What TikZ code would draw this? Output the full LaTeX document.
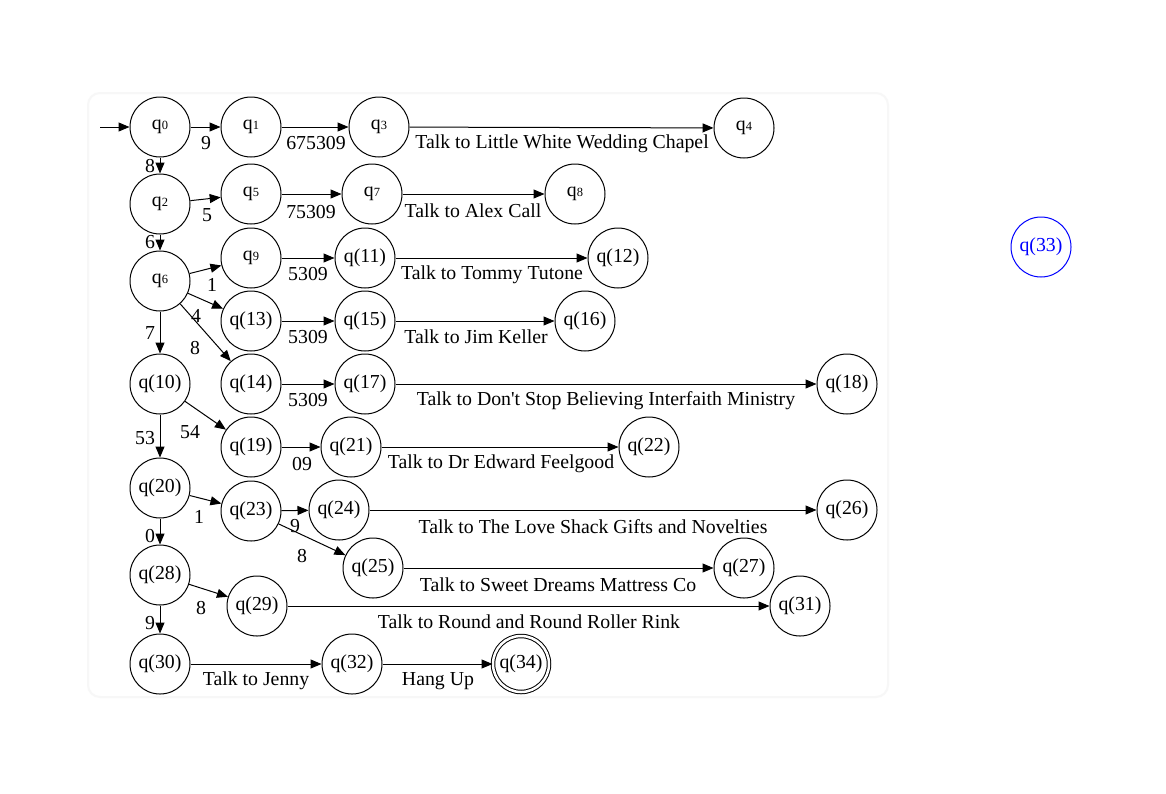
\documentclass[tikz,border=0pt]{standalone}
\usepackage{fontspec}
\setmainfont{Liberation Serif}[Ligatures=TeXOff]
\usetikzlibrary{arrows.meta}
\newcommand\qsub[1]{q{\fontsize{12.5}{12.5}\selectfont #1}}
\begin{document}
\begin{tikzpicture}[x=1pt,y=-1pt,
  st/.style={circle, draw, line width=1pt, minimum size=60pt, inner sep=0pt, font=\fontsize{19.8}{22}\selectfont},
  lb/.style={inner sep=0pt, font=\fontsize{19.8}{22}\selectfont},
  tr/.style={-{Triangle[length=11pt,width=9pt]}, line width=1pt}]
\useasboundingbox[fill=white] (0,0) rectangle (1166,793);
\draw[black!3, line width=2pt, rounded corners=12pt] (88,93) rectangle (888,697);
% states
\node[st] (q0) at (160,127) {\qsub{0}};
\node[st] (q1) at (251,127) {\qsub{1}};
\node[st] (q3) at (379,127) {\qsub{3}};
\node[st] (q4) at (744,128) {\qsub{4}};
\node[st] (q2) at (160,204) {\qsub{2}};
\node[st] (q5) at (251,194) {\qsub{5}};
\node[st] (q7) at (372,194) {\qsub{7}};
\node[st] (q8) at (575,194) {\qsub{8}};
\node[st] (q6) at (160,281) {\qsub{6}};
\node[st] (q9) at (251,258) {\qsub{9}};
\node[st] (q11) at (365,258) {q(11)};
\node[st] (q12) at (618,258) {q(12)};
\node[st] (q13) at (251,321) {q(13)};
\node[st] (q15) at (365,321) {q(15)};
\node[st] (q16) at (585,321) {q(16)};
\node[st] (q10) at (160,384) {q(10)};
\node[st] (q14) at (251,384) {q(14)};
\node[st] (q17) at (365,384) {q(17)};
\node[st] (q18) at (847,384) {q(18)};
\node[st] (q19) at (251,447) {q(19)};
\node[st] (q21) at (351,447) {q(21)};
\node[st] (q22) at (649,447) {q(22)};
\node[st] (q20) at (160,488) {q(20)};
\node[st] (q23) at (251,511) {q(23)};
\node[st] (q24) at (339,510) {q(24)};
\node[st] (q26) at (847,510) {q(26)};
\node[st] (q25) at (373,568) {q(25)};
\node[st] (q27) at (744,568) {q(27)};
\node[st] (q28) at (160,575) {q(28)};
\node[st] (q29) at (257,606) {q(29)};
\node[st] (q31) at (800,606) {q(31)};
\node[st] (q30) at (160,664) {q(30)};
\node[st] (q32) at (352,664) {q(32)};
\node[st, minimum size=56pt, double, double distance=2.5pt] (q34) at (521,664) {q(34)};
\node[st, draw=blue, text=blue] (q33) at (1041,247) {q(33)};
\coordinate (start) at (100,127);
% edges
\draw[tr] (start) -- (q0);
\draw[tr] (q0) -- (q1);
\draw[tr] (q1) -- (q3);
\draw[tr] (q3) -- (q4);
\draw[tr] (q0) -- (q2);
\draw[tr] (q2) -- (q5);
\draw[tr] (q5) -- (q7);
\draw[tr] (q7) -- (q8);
\draw[tr] (q2) -- (q6);
\draw[tr] (q6) -- (q9);
\draw[tr] (q9) -- (q11);
\draw[tr] (q11) -- (q12);
\draw[tr] (q6) -- (q13);
\draw[tr] (q13) -- (q15);
\draw[tr] (q15) -- (q16);
\draw[tr] (q6) -- (q10);
\draw[tr] (q6) -- (q14);
\draw[tr] (q14) -- (q17);
\draw[tr] (q17) -- (q18);
\draw[tr] (q10) -- (q19);
\draw[tr] (q19) -- (q21);
\draw[tr] (q21) -- (q22);
\draw[tr] (q10) -- (q20);
\draw[tr] (q20) -- (q23);
\draw[tr] (q23) -- (q24);
\draw[tr] (q24) -- (q26);
\draw[tr] (q23) -- (q25);
\draw[tr] (q25) -- (q27);
\draw[tr] (q20) -- (q28);
\draw[tr] (q28) -- (q29);
\draw[tr] (q29) -- (q31);
\draw[tr] (q28) -- (q30);
\draw[tr] (q30) -- (q32);
\draw[tr] (q32) -- (q34);
% labels
\node[lb] (l1) at (206,143) {9};
\node[lb] (l2) at (150,166) {8};
\node[lb] (l3) at (316,143) {675309};
\node[lb] (l4) at (562,144) {Talk to Little White Wedding Chapel};
\node[lb] (l5) at (207,215) {5};
\node[lb] (l6) at (311,212) {75309};
\node[lb] (l7) at (473,211) {Talk to Alex Call};
\node[lb] (l8) at (150,242) {6};
\node[lb] (l9) at (212,285) {1};
\node[lb] (l10) at (308,274) {5309};
\node[lb] (l11) at (492,275) {Talk to Tommy Tutone};
\node[lb] (l12) at (196,316) {4};
\node[lb] (l13) at (195,348) {8};
\node[lb] (l14) at (150,333) {7};
\node[lb] (l15) at (308,337) {5309};
\node[lb] (l16) at (476,337) {Talk to Jim Keller};
\node[lb] (l17) at (308,400) {5309};
\node[lb] (l18) at (606,401) {Talk to Don't Stop Believing Interfaith Ministry};
\node[lb] (l19) at (145,438) {53};
\node[lb] (l20) at (190,432) {54};
\node[lb] (l21) at (302,464) {09};
\node[lb] (l22) at (501,464) {Talk to Dr Edward Feelgood};
\node[lb] (l23) at (199,517) {1};
\node[lb] (l24) at (150,536) {0};
\node[lb] (l25) at (295,526) {9};
\node[lb] (l26) at (302,556) {8};
\node[lb] (l27) at (593,527) {Talk to The Love Shack Gifts and Novelties};
\node[lb] (l28) at (558,585) {Talk to Sweet Dreams Mattress Co};
\node[lb] (l29) at (201,608) {8};
\node[lb] (l30) at (150,623) {9};
\node[lb] (l31) at (529,622) {Talk to Round and Round Roller Rink};
\node[lb] (l32) at (256,681) {Talk to Jenny};
\node[lb] (l33) at (438,681) {Hang Up};
\end{tikzpicture}
\end{document}
